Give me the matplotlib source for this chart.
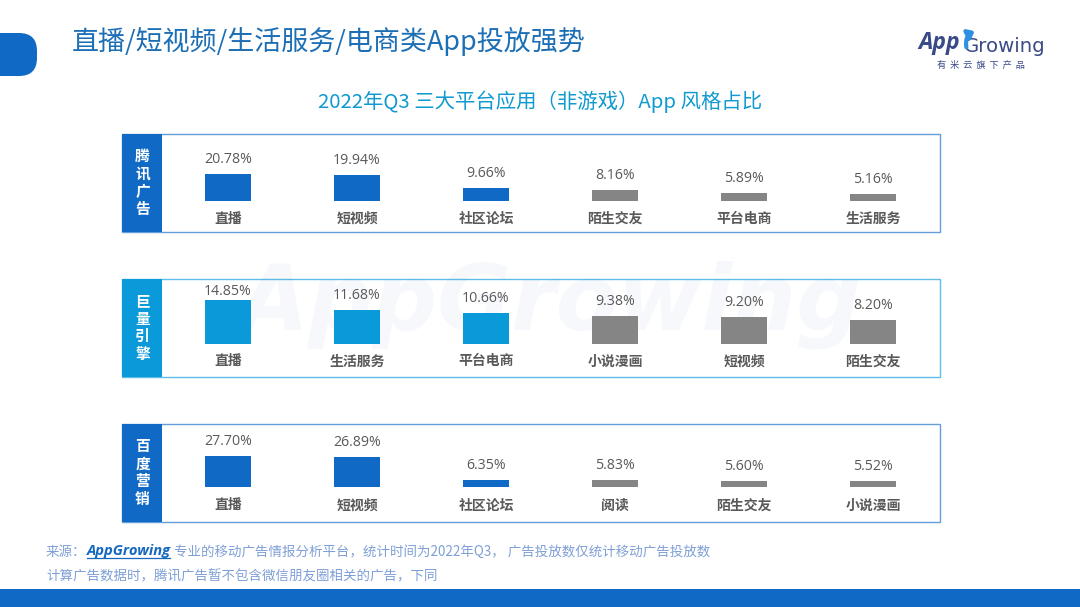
import matplotlib
matplotlib.use("Agg")
import matplotlib.pyplot as plt
from matplotlib.patches import Rectangle, FancyBboxPatch, FancyArrowPatch

plt.rcParams['font.family'] = ['Noto Sans CJK SC', 'DejaVu Sans']

W, H = 1080, 607
BLUE = '#106AC5'
CYAN = '#0A9AD9'
GREY = '#858585'

title = '直播/短视频/生活服务/电商类App投放强势'
subtitle = '2022年Q3 三大平台应用（非游戏）App 风格占比'

platforms = ['腾讯广告', '巨量引擎', '百度营销']
tencent_cats = ['直播', '短视频', '社区论坛', '陌生交友', '平台电商', '生活服务']
tencent_vals = [20.78, 19.94, 9.66, 8.16, 5.89, 5.16]
juliang_cats = ['直播', '生活服务', '平台电商', '小说漫画', '短视频', '陌生交友']
juliang_vals = [14.85, 11.68, 10.66, 9.38, 9.20, 8.20]
baidu_cats = ['直播', '短视频', '社区论坛', '阅读', '陌生交友', '小说漫画']
baidu_vals = [27.70, 26.89, 6.35, 5.83, 5.60, 5.52]

source_a = '来源：'
source_b = 'AppGrowing'
source_c = '专业的移动广告情报分析平台，统计时间为2022年Q3， 广告投放数仅统计移动广告投放数'
source_d = '计算广告数据时，腾讯广告暂不包含微信朋友圈相关的广告，下同'

fig = plt.figure(figsize=(W / 100, H / 100), dpi=100, facecolor='white')

bg = fig.add_axes([0, 0, 1, 1], zorder=0)
bg.set_xlim(0, W)
bg.set_ylim(H, 0)
bg.axis('off')

# watermark
bg.text(550, 305, 'AppGrowing', fontsize=65, family='DejaVu Sans', style='italic',
        fontweight='bold', color='#F6F8FB', ha='center', va='center', zorder=0)

# header, footer
bg.add_patch(FancyBboxPatch((-30, 33), 67, 43, boxstyle='round,pad=0,rounding_size=18',
                            fc=BLUE, ec='none', zorder=2))
bg.add_patch(Rectangle((0, 589), W, 18, fc=BLUE, ec='none', zorder=2))
bg.text(72, 41, title, fontsize=19.45, color='#1D6FB5', ha='left', va='center', zorder=3)
bg.text(540, 102, subtitle, fontsize=14.7, color='#0F9AD0', ha='center', va='center', zorder=3)

# logo
bg.text(918, 43, 'App', fontsize=16.5, family='Open Sans', style='italic', fontweight='bold',
        color='#3A4A86', ha='left', va='center', zorder=3)
bg.text(964, 47, 'Growing', fontsize=14.2, family='DejaVu Sans', color='#3A4A86',
        ha='left', va='center', zorder=3)
bg.add_patch(FancyArrowPatch((967, 50), (977, 30), connectionstyle='arc3,rad=-0.45',
                             arrowstyle='-|>,head_length=3.5,head_width=3', lw=3,
                             color='#2E90E0', zorder=4))
bg.text(981, 65, '有  米  云  旗  下  产  品', fontsize=6.6, color='#3A4A86',
        ha='center', va='center', zorder=3)

panels = [
    (tencent_cats, tencent_vals, BLUE, 134, 200.5, 1.28, 218.5),
    (juliang_cats, juliang_vals, CYAN, 279, 343.5, 2.90, 361.5),
    (baidu_cats, baidu_vals, BLUE, 424, 487.0, 1.12, 505.5),
]
offset_x = 228
step = 129
bar_w = 46 / step

for name, (cats, vals, col, top, base, scale, cat_y) in zip(platforms, panels):
    bottom = top + 98
    # frame and side block
    bg.add_patch(Rectangle((122, top), 818, 98, fc='none', ec=col, lw=1.0, alpha=0.65, zorder=2))
    bg.add_patch(Rectangle((122, top), 40, 98, fc=col, ec='none', zorder=3))
    bg.text(142.5, top + 48.5, '\n'.join(name), fontsize=10.6, color='white', fontweight='bold',
            ha='center', va='center', linespacing=1.13, zorder=4)

    # axes spanning the panel: data y is the percentage, data x the rank
    ax = fig.add_axes([162 / W, 1 - bottom / H, (940 - 162) / W, 98 / H], zorder=1)
    ax.patch.set_alpha(0)
    ax.set_xlim((162 - offset_x) / step, (940 - offset_x) / step)
    ax.set_ylim((base - bottom) / scale, (base - top) / scale)
    ax.axis('off')
    colors = [col if i < 3 else GREY for i in range(len(vals))]
    ax.bar(range(len(vals)), vals, width=bar_w, color=colors, linewidth=0)
    for i, (c, v) in enumerate(zip(cats, vals)):
        bar_top = base - v * scale
        dy = bar_top - max(bar_top - 14.5, top + 12.5)
        ax.annotate(f'{v:.2f}%', (i, v), xytext=(0, dy * 0.72), textcoords='offset points',
                    fontsize=10.2, family='Open Sans', color='#595959', ha='center', va='center')
        bg.text(offset_x + i * step, cat_y, c, fontsize=10, color='#595959', fontweight='bold',
                ha='center', va='center', zorder=3)

# source notes
SRC = '#7E9FD6'
bg.text(46, 552, source_a, fontsize=9.7, color=SRC, ha='left', va='center', zorder=3)
bg.text(87, 550.5, source_b, fontsize=10.6, family='Open Sans', style='italic', fontweight='bold',
        color='#1468BE', ha='left', va='center', zorder=3)
bg.plot([87, 170], [558, 558], color='#1468BE', lw=0.9, zorder=3)
bg.text(174, 552, source_c, fontsize=9.7, color=SRC, ha='left', va='center', zorder=3)
bg.text(46, 576, source_d, fontsize=9.7, color=SRC, ha='left', va='center', zorder=3)

fig.savefig('out.png', dpi=100)
